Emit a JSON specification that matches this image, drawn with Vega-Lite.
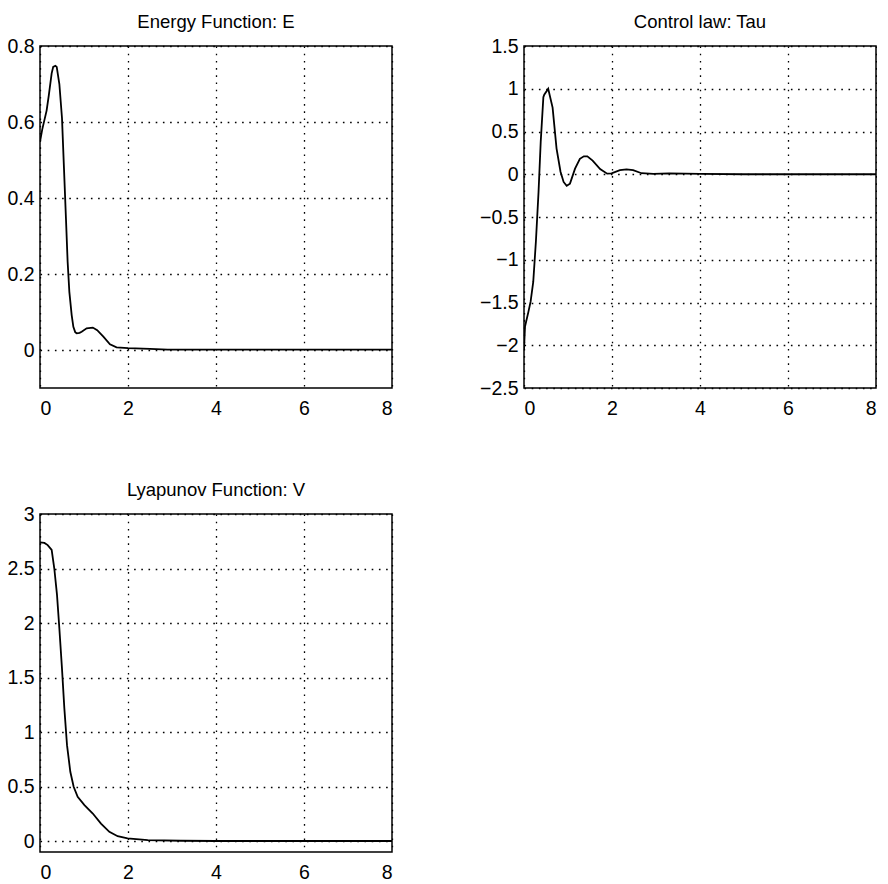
{
  "$schema": "https://vega.github.io/schema/vega-lite/v6.json",
  "background": "white",
  "padding": {"left": 6, "top": 11, "right": 0, "bottom": 0},
  "bounds": "flush",
  "columns": 2,
  "spacing": {"row": 126, "column": 132},
  "config": {
    "font": "Liberation Sans",
    "view": {"stroke": "black", "strokeWidth": 1.5},
    "axis": {
      "domain": false,
      "ticks": false,
      "tickSize": 0,
      "grid": true,
      "gridColor": "black",
      "gridDash": [1.6, 5.6],
      "gridWidth": 1.3,
      "gridOpacity": 1,
      "labelFont": "Liberation Sans",
      "labelFontSize": 19.5,
      "labelColor": "black",
      "title": null,
      "format": "~g"
    },
    "axisX": {"labelPadding": 11},
    "axisY": {"labelPadding": 6},
    "title": {"font": "Liberation Sans", "fontSize": 18.5, "fontWeight": "normal", "color": "black", "baseline": "alphabetic", "offset": 5},
    "line": {"color": "black", "strokeWidth": 1.8}
  },
  "datasets": {
    "energy": [
      {"t": 0, "v": 0.548}, {"t": 0.05, "v": 0.58}, {"t": 0.1, "v": 0.605}, {"t": 0.15, "v": 0.63},
      {"t": 0.2, "v": 0.67}, {"t": 0.265, "v": 0.728}, {"t": 0.3, "v": 0.745}, {"t": 0.35, "v": 0.748},
      {"t": 0.38, "v": 0.745}, {"t": 0.44, "v": 0.70}, {"t": 0.5, "v": 0.61}, {"t": 0.545, "v": 0.478},
      {"t": 0.59, "v": 0.346}, {"t": 0.628, "v": 0.232}, {"t": 0.667, "v": 0.153}, {"t": 0.72, "v": 0.092},
      {"t": 0.758, "v": 0.061}, {"t": 0.8, "v": 0.047}, {"t": 0.833, "v": 0.044}, {"t": 0.9, "v": 0.045},
      {"t": 0.947, "v": 0.048}, {"t": 1.06, "v": 0.057}, {"t": 1.2, "v": 0.059}, {"t": 1.3, "v": 0.052},
      {"t": 1.44, "v": 0.035}, {"t": 1.59, "v": 0.015}, {"t": 1.74, "v": 0.007}, {"t": 2.0, "v": 0.005},
      {"t": 2.5, "v": 0.003}, {"t": 2.9, "v": 0.001}, {"t": 3.5, "v": 0.001}, {"t": 8, "v": 0.001}
    ],
    "tau": [
      {"t": 0, "v": -2.05}, {"t": 0.023, "v": -1.78}, {"t": 0.1, "v": -1.61}, {"t": 0.15, "v": -1.49},
      {"t": 0.21, "v": -1.26}, {"t": 0.27, "v": -0.79}, {"t": 0.33, "v": -0.21}, {"t": 0.38, "v": 0.38},
      {"t": 0.44, "v": 0.9}, {"t": 0.46, "v": 0.93}, {"t": 0.55, "v": 1.0}, {"t": 0.65, "v": 0.78},
      {"t": 0.74, "v": 0.30}, {"t": 0.83, "v": 0.03}, {"t": 0.9, "v": -0.09}, {"t": 0.97, "v": -0.135},
      {"t": 1.045, "v": -0.11}, {"t": 1.16, "v": 0.066}, {"t": 1.27, "v": 0.18}, {"t": 1.36, "v": 0.21},
      {"t": 1.44, "v": 0.21}, {"t": 1.56, "v": 0.16}, {"t": 1.73, "v": 0.06}, {"t": 1.89, "v": 0.007},
      {"t": 1.99, "v": 0.01}, {"t": 2.18, "v": 0.047}, {"t": 2.33, "v": 0.058}, {"t": 2.48, "v": 0.047},
      {"t": 2.67, "v": 0.012}, {"t": 2.94, "v": 0.005}, {"t": 3.3, "v": 0.01}, {"t": 4, "v": 0.005},
      {"t": 5, "v": 0}, {"t": 8, "v": 0}
    ],
    "lyap": [
      {"t": 0, "v": 2.74}, {"t": 0.1, "v": 2.735}, {"t": 0.175, "v": 2.715}, {"t": 0.265, "v": 2.67},
      {"t": 0.325, "v": 2.5}, {"t": 0.386, "v": 2.26}, {"t": 0.44, "v": 1.95}, {"t": 0.5, "v": 1.58},
      {"t": 0.553, "v": 1.22}, {"t": 0.614, "v": 0.88}, {"t": 0.689, "v": 0.636}, {"t": 0.765, "v": 0.498},
      {"t": 0.856, "v": 0.406}, {"t": 1.01, "v": 0.33}, {"t": 1.2, "v": 0.253}, {"t": 1.386, "v": 0.161},
      {"t": 1.576, "v": 0.085}, {"t": 1.765, "v": 0.045}, {"t": 1.99, "v": 0.024}, {"t": 2.45, "v": 0.009},
      {"t": 3.2, "v": 0.003}, {"t": 4, "v": 0.001}, {"t": 8, "v": 0.001}
    ]
  },
  "concat": [
    {
      "title": "Energy Function: E",
      "width": 352, "height": 342,
      "data": {"name": "energy"},
      "mark": {"type": "line", "clip": true},
      "encoding": {
        "x": {"field": "t", "type": "quantitative", "scale": {"domain": [0, 8], "nice": false}, "axis": {"values": [0, 2, 4, 6, 8]}},
        "y": {"field": "v", "type": "quantitative", "scale": {"domain": [-0.1, 0.8], "nice": false, "zero": false}, "axis": {"values": [0, 0.2, 0.4, 0.6, 0.8]}}
      }
    },
    {
      "title": "Control law: Tau",
      "width": 352, "height": 342,
      "data": {"name": "tau"},
      "mark": {"type": "line", "clip": true},
      "encoding": {
        "x": {"field": "t", "type": "quantitative", "scale": {"domain": [0, 8], "nice": false}, "axis": {"values": [0, 2, 4, 6, 8]}},
        "y": {"field": "v", "type": "quantitative", "scale": {"domain": [-2.5, 1.5], "nice": false, "zero": false}, "axis": {"values": [-2.5, -2, -1.5, -1, -0.5, 0, 0.5, 1, 1.5]}}
      }
    },
    {
      "title": "Lyapunov Function: V",
      "width": 352, "height": 338,
      "data": {"name": "lyap"},
      "mark": {"type": "line", "clip": true},
      "encoding": {
        "x": {"field": "t", "type": "quantitative", "scale": {"domain": [0, 8], "nice": false}, "axis": {"values": [0, 2, 4, 6, 8]}},
        "y": {"field": "v", "type": "quantitative", "scale": {"domain": [-0.1, 3], "nice": false, "zero": false}, "axis": {"values": [0, 0.5, 1, 1.5, 2, 2.5, 3]}}
      }
    }
  ]
}
